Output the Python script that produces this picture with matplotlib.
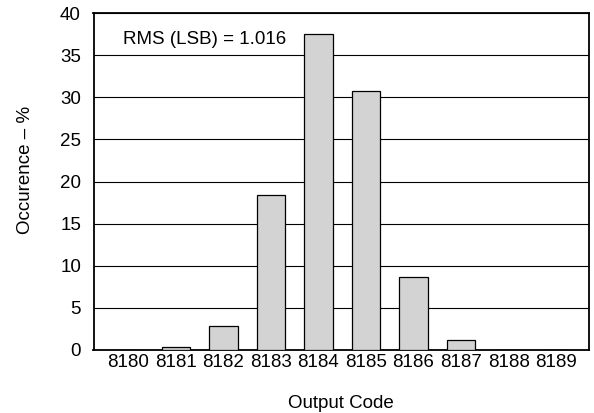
import matplotlib
matplotlib.use("Agg")
import matplotlib.pyplot as plt

codes = ["8180", "8181", "8182", "8183", "8184", "8185", "8186", "8187", "8188", "8189"]
occurrence = [0.05, 0.3, 2.9, 18.4, 37.5, 30.7, 8.7, 1.2, 0.05, 0.05]
yticks = [0, 5, 10, 15, 20, 25, 30, 35, 40]

plt.rcParams['font.family'] = ['Liberation Sans', 'DejaVu Sans']

fig = plt.figure(figsize=(5.94, 4.13), dpi=100)
ax = fig.add_axes([93.5/594, 1-350/413, (589-93.5)/594, (350-13)/413])

x = list(range(len(codes)))
ax.bar(x, occurrence, width=0.6, color='#d3d3d3', edgecolor='black', linewidth=0.9, zorder=3)

ax.set_xlim(-0.73, len(codes) - 1 + 0.69)
ax.set_ylim(0, 40)
ax.set_yticks(yticks)
ax.set_xticks(x)
ax.set_xticklabels(codes)
ax.tick_params(axis='both', length=0, labelsize=13.5, pad=3)
ax.tick_params(axis='y', pad=9)
ax.yaxis.grid(True, color='black', linewidth=0.8, zorder=0)
ax.set_axisbelow(True)
for s in ax.spines.values():
    s.set_linewidth(1.3)
    s.set_color('black')

ax.text(-0.12, 36.9, "RMS (LSB) = 1.016", fontsize=13.5, va='center', ha='left', zorder=4)

ax.set_ylabel("Occurence – %", fontsize=13.5)
ax.yaxis.set_label_coords((34 - 93.5) / 495.5, (350 - 170) / 337)
fig.text(341/594, 1-403/413, "Output Code", fontsize=13.5, ha='center', va='center')

fig.savefig("out.png", dpi=100)
